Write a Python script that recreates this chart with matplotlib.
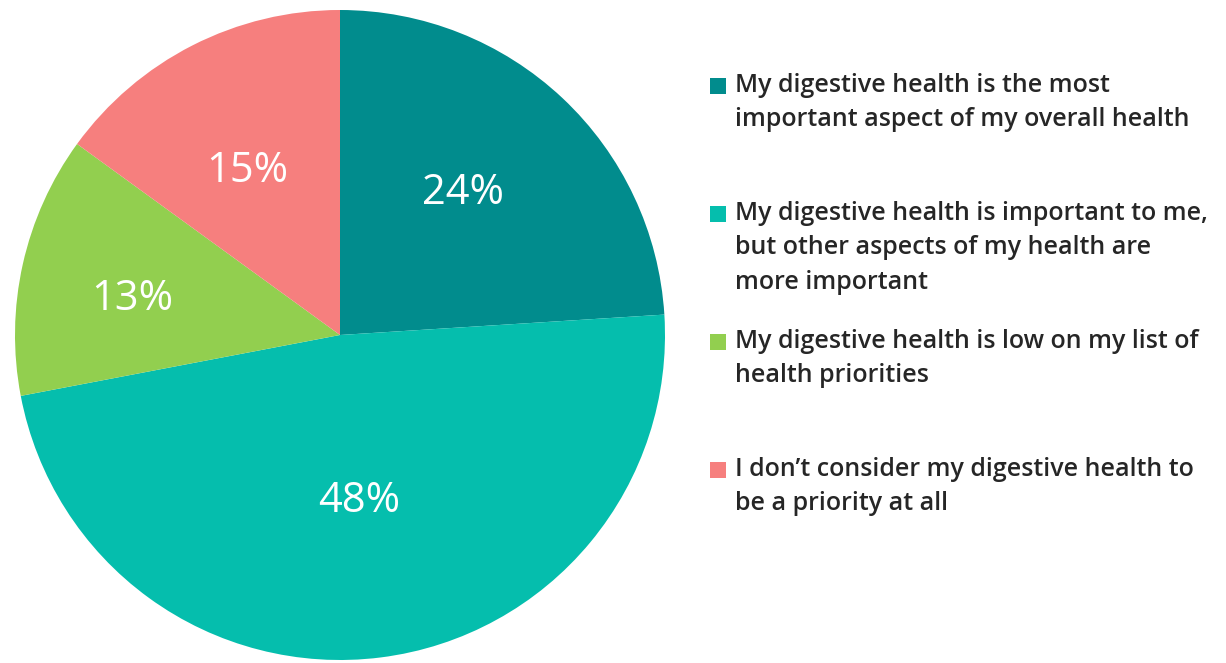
import matplotlib
matplotlib.use("Agg")
import matplotlib.pyplot as plt
from matplotlib.patches import Rectangle
import numpy as np

categories = [
    "My digestive health is the most\nimportant aspect of my overall health",
    "My digestive health is important to me,\nbut other aspects of my health are\nmore important",
    "My digestive health is low on my list of\nhealth priorities",
    "I don\u2019t consider my digestive health to\nbe a priority at all",
]
values = [24, 48, 13, 15]
pct_labels = ["24%", "48%", "13%", "15%"]
colors = ["#018C8D", "#05BEAD", "#92CF4F", "#F67F7E"]
label_dist = [0.578, 0.514, 0.65, 0.58]
label_rot = [2.3, -0.7, 2.8, 2.6]

W, H = 1226, 663
fig = plt.figure(figsize=(W / 100, H / 100), dpi=100)
fig.patch.set_facecolor("white")

cx, cy, r = 340, 335, 325
ax = fig.add_axes([(cx - r) / W, (H - cy - r) / H, 2 * r / W, 2 * r / H])
wedges, _ = ax.pie(values, colors=colors, startangle=90, counterclock=False,
                   radius=1, wedgeprops=dict(linewidth=0))
ax.set_xlim(-1, 1)
ax.set_ylim(-1, 1)
ax.set_aspect("auto")
ax.axis("off")

for w, lab, d, dr in zip(wedges, pct_labels, label_dist, label_rot):
    ang = np.deg2rad((w.theta1 + w.theta2) / 2 + dr)
    ax.text(d * np.cos(ang), d * np.sin(ang), lab, ha="center", va="center",
            color="white", fontsize=30, family="Open Sans")

# legend
x_sq, x_txt = 710, 735
y0, dy = 86, 128
sq = 16
for i, (lab, col) in enumerate(zip(categories, colors)):
    yc = y0 + dy * i
    fig.patches.append(Rectangle(((x_sq) / W, (H - yc - sq / 2) / H), sq / W, sq / H,
                                 transform=fig.transFigure, facecolor=col, edgecolor="none"))
    fig.text(x_txt / W, (H - yc + 13) / H, lab, ha="left", va="top", fontsize=18,
             family="Open Sans", fontweight="semibold", color="#262626", linespacing=1.5)

fig.savefig("out.png", dpi=100, facecolor="white")
